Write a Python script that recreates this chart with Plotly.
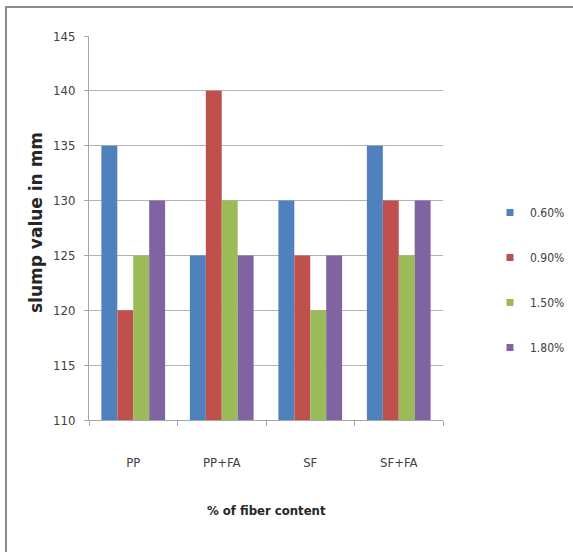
import plotly.graph_objects as go

categories = ["PP", "PP+FA", "SF", "SF+FA"]
series_names = ["0.60%", "0.90%", "1.50%", "1.80%"]
slump_060 = [135, 125, 130, 135]
slump_090 = [120, 140, 125, 130]
slump_150 = [125, 130, 120, 125]
slump_180 = [130, 125, 125, 130]
y_ticks = [110, 115, 120, 125, 130, 135, 140, 145]

colors = ["#4F81BD", "#C0504D", "#9BBB59", "#8064A2"]
font_family = "Liberation Sans Narrow, DejaVu Sans Condensed, Arial Narrow, sans-serif"
text_color = "#404040"

fig = go.Figure()
for name, vals, col in zip(series_names, [slump_060, slump_090, slump_150, slump_180], colors):
    fig.add_trace(go.Bar(
        x=categories, y=vals, name=name, marker=dict(color=col, line=dict(width=0)),
        showlegend=False,
    ))
# small square legend keys
for name, col in zip(series_names, colors):
    fig.add_trace(go.Scatter(
        x=[None], y=[None], mode="markers", name=name, legendgroup=name,
        marker=dict(symbol="square", size=7, color=col), showlegend=True,
    ))

fig.update_layout(
    width=573, height=552,
    margin=dict(l=89, r=130, t=36, b=132, autoexpand=False),
    paper_bgcolor="white", plot_bgcolor="white",
    barmode="group", bargap=0.28, bargroupgap=0,
    font=dict(family=font_family, size=13, color=text_color),
    showlegend=True,
    legend=dict(
        xref="container", yref="container",
        x=490 / 573, xanchor="left", y=1 - 280 / 552, yanchor="middle",
        font=dict(family=font_family, size=12, color=text_color),
        tracegroupgap=26, itemwidth=30, traceorder="grouped",
        bgcolor="rgba(0,0,0,0)",
    ),
    xaxis=dict(
        type="category", showgrid=False, showline=True, linecolor="#a6a6a6", linewidth=1,
        ticks="outside", tickson="boundaries", ticklen=5, tickcolor="#a6a6a6",
        ticklabelstandoff=30, tickfont=dict(size=13, color=text_color),
    ),
    yaxis=dict(
        range=[110, 145], tickvals=y_ticks,
        showgrid=True, gridcolor="#b3b3b3", gridwidth=1,
        showline=True, linecolor="#a6a6a6", linewidth=1,
        ticks="outside", ticklen=4, tickcolor="#a6a6a6",
        ticklabelstandoff=6, zeroline=False,
        tickfont=dict(size=13, color=text_color),
    ),
    annotations=[
        dict(text="<b>slump value in mm</b>", textangle=-90, xref="paper", yref="paper",
             x=(36 - 89) / 354, y=1 - (223 - 36) / 384, xanchor="center", yanchor="middle",
             showarrow=False,
             font=dict(family="DejaVu Sans, Verdana, sans-serif", size=17, color="#262626")),
        dict(text="<b>% of fiber content</b>", xref="paper", yref="paper",
             x=0.5, y=(420 - 510) / 384, xanchor="center", yanchor="middle", showarrow=False,
             font=dict(family=font_family, size=13, color="#262626")),
    ],
    shapes=[
        dict(type="rect", xref="paper", yref="paper",
             x0=(6 - 89) / 354, x1=1.6, y0=-0.6, y1=1 + (36 - 7) / 384,
             line=dict(color="#8c8c8c", width=2), fillcolor="rgba(0,0,0,0)", layer="below"),
    ],
)

fig.write_html("out.html")
